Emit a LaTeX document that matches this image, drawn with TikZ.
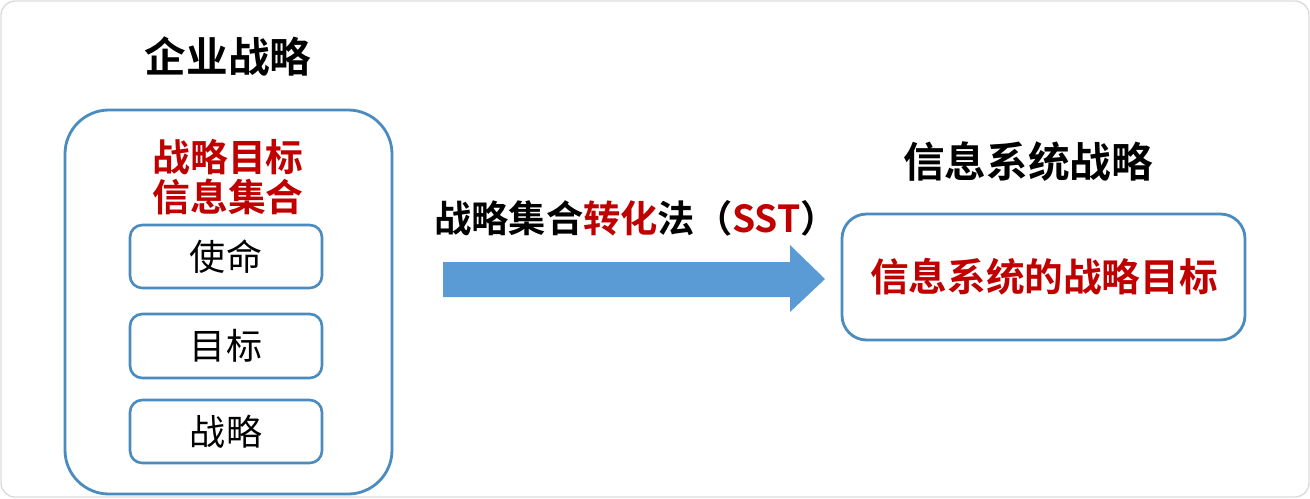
\documentclass[tikz,border=0pt]{standalone}
\usepackage{fontspec}
\setmainfont{Noto Sans CJK SC}
\newfontfamily\cjkb{Noto Sans CJK SC Bold}
\usetikzlibrary{shapes.arrows}
\definecolor{boxblue}{HTML}{4A8CC0}
\definecolor{arrowblue}{HTML}{5B9BD5}
\definecolor{txtred}{HTML}{C00000}
\definecolor{framegray}{HTML}{DCDCDC}
\tikzset{
  title/.style={font=\cjkb\fontsize{23.7}{26}\selectfont, text=black, inner sep=0pt},
  redlbl/.style={font=\cjkb\fontsize{21.5}{24}\selectfont, text=txtred, inner sep=0pt},
  bigbox/.style={draw=boxblue, line width=1.6pt, rounded corners=25pt},
  smallbox/.style={draw=boxblue, line width=1.5pt, rounded corners=7pt},
  boxtext/.style={font=\fontsize{20.5}{23}\selectfont, inner sep=0pt},
}
\begin{document}
\begin{tikzpicture}[x=0.02cm, y=-0.02cm]
\useasboundingbox (0,0) rectangle (1310,498);
\draw[framegray, line width=0.8pt, rounded corners=8pt] (1,1) rectangle (1309,497);
% left side
\node[title] (t1) at (228,57) {企业战略};
\draw[bigbox] (65,110) rectangle (392,494);
\node[redlbl] (r1) at (228,157) {战略目标};
\node[redlbl] (r2) at (228,197) {信息集合};
\draw[smallbox] (130,225) rectangle (322,288);
\node[boxtext] (s1) at (226,257) {使命};
\draw[smallbox] (130,314) rectangle (322,378);
\node[boxtext] (s2) at (226,346) {目标};
\draw[smallbox] (130,400) rectangle (322,463);
\node[boxtext] (s3) at (226,432) {战略};
% arrow
\fill[arrowblue] (443,262) -- (790,262) -- (790,245) -- (825,279) -- (790,312) -- (790,297) -- (443,297) -- cycle;
\node[font=\cjkb\fontsize{21.2}{24}\selectfont, inner sep=0pt] (lbl) at (636,218) {战略集合\textcolor{txtred}{转化}法（\textcolor{txtred}{SST}）};
% right side
\node[title] (t2) at (1028,162) {信息系统战略};
\draw[bigbox, rounded corners=14pt] (842,214) rectangle (1245,340);
\node[redlbl, font=\cjkb\fontsize{22}{24}\selectfont] (r3) at (1044,277) {信息系统的战略目标};
\end{tikzpicture}
\end{document}
